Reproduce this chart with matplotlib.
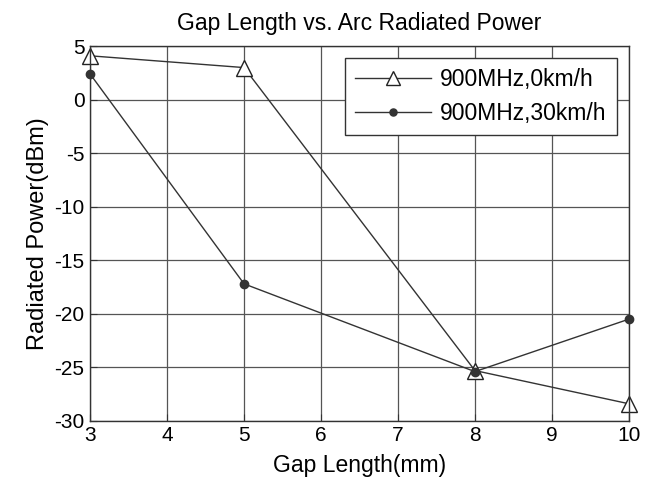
import matplotlib
matplotlib.use('Agg')
import matplotlib.pyplot as plt

plt.rcParams['font.family'] = ['Liberation Sans', 'DejaVu Sans']
plt.rcParams['axes.unicode_minus'] = False

gap = [3, 5, 8, 10]
power_0kmh = [4.1, 3.0, -25.3, -28.4]
power_30kmh = [2.4, -17.2, -25.4, -20.5]
xticks = [3, 4, 5, 6, 7, 8, 9, 10]
yticks = [5, 0, -5, -10, -15, -20, -25, -30]

fig = plt.figure(figsize=(6.53, 4.86), dpi=100)
ax = fig.add_axes([0.138, 0.134, 0.825, 0.771])

ax.plot(gap, power_0kmh, color='#333333', lw=1, marker='^', ms=12,
        mfc='white', mec='#222222', mew=1, label='900MHz,0km/h', clip_on=False)
ax.plot(gap, power_30kmh, color='#333333', lw=1, marker='o', ms=6,
        mfc='#333333', mec='#333333', label='900MHz,30km/h', clip_on=False)

ax.set_xlim(3, 10)
ax.set_ylim(-30, 5)
ax.set_xticks(xticks)
ax.set_yticks(yticks)
ax.grid(True, color='#555555', lw=0.9)
ax.set_axisbelow(True)
ax.tick_params(direction='in', labelsize=15, length=5, color='#333333', pad=4)
for s in ax.spines.values():
    s.set_color('#333333')
    s.set_linewidth(1)

ax.set_title('Gap Length vs. Arc Radiated Power', fontsize=16.5, pad=12)
ax.set_xlabel('Gap Length(mm)', fontsize=16.5, labelpad=6)
ax.set_ylabel('Radiated Power(dBm)', fontsize=17, labelpad=4)

leg = ax.legend(loc='upper right', fontsize=16.5, fancybox=False, framealpha=1,
                edgecolor='#333333', borderpad=0.45, handlelength=3.3,
                labelspacing=0.45, markerscale=0.85, handletextpad=0.4,
                borderaxespad=0, bbox_to_anchor=(0.978, 0.968))
leg.get_frame().set_linewidth(1)

fig.savefig('out.png', dpi=100)
